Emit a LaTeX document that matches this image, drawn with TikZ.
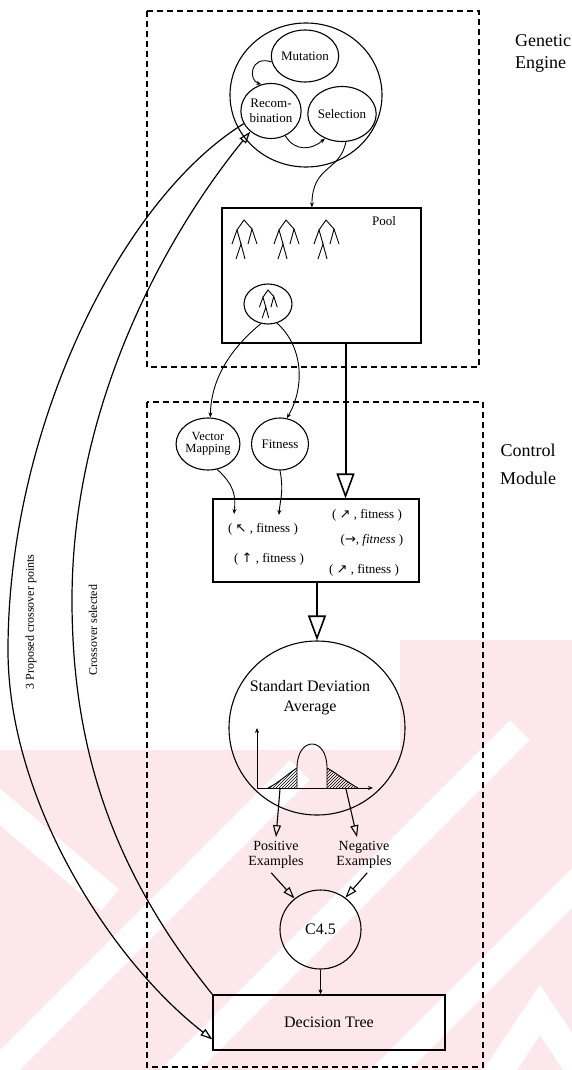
\documentclass[tikz,border=0pt]{standalone}
\usepackage{fontspec}
\setmainfont{Liberation Serif}
\newfontfamily\dv{DejaVu Sans}
\usetikzlibrary{arrows.meta,shapes.geometric,patterns,calc}
\definecolor{wmpink}{RGB}{252,232,236}
\newcommand{\gptree}[3]{%
  \begin{scope}[shift={(#1,#2)},scale=#3,line width=0.9pt]
    \draw (-7,10) -- (0,0) -- (8,9);
    \draw (-12,24) -- (-7,10) -- (-3,24);
    \draw (4,24) -- (8,9) -- (13,24);
    \draw (-8,39) -- (-3,24) -- (1,39);
  \end{scope}}
\begin{document}
\begin{tikzpicture}[x=1pt,y=-1pt,
  every node/.style={inner sep=0pt},
  op/.style={draw,ellipse,fill=white,line width=1.1pt,align=center,font=\fontsize{13}{15}\selectfont},
  dbox/.style={draw,dash pattern=on 6pt off 4pt,line width=1.3pt},
  box/.style={draw,rectangle,fill=white,line width=1.2pt},
  con/.style={line width=0.9pt,-{Stealth[length=5pt,width=4pt]}},
  oarr/.style={line width=1.1pt,-{Triangle[open,length=12pt,width=8pt]}},
  bigarr/.style={line width=2pt,-{Triangle[open,length=25pt,width=18pt,line width=1.6pt]}},
  lt/.style={font=\fontsize{13}{13}\selectfont},
  ex/.style={align=center,inner sep=4pt,font=\fontsize{14}{15}\selectfont},
  side/.style={font=\fontsize{18}{22}\selectfont},
  arclab/.style={rotate=90,font=\fontsize{12}{12}\selectfont},
  wmband/.style={white,line width=28pt},
]
\useasboundingbox (0,0) rectangle (572,1070);

% faint watermark in the background
\begin{scope}
  \clip (0,1070) -- (0,750) -- (400,750) -- (400,640) -- (572,640) -- (572,1070) -- cycle;
  \fill[wmpink] (0,600) rectangle (572,1070);
  \draw[wmband] (-60,1130) -- (300,770);
  \draw[wmband] (120,1130) -- (520,730);
  \draw[wmband] (330,1130) -- (700,760);
  \draw[wmband] (-20,790) -- (110,900);
  \draw[wmband] (480,1100) -- (540,1010) -- (600,1100);
\end{scope}

% dashed module frames
\draw[dbox] (147,11) rectangle (479,367);
\draw[dbox] (147,402) rectangle (483,1067);

% module labels
\node[side,align=left,anchor=west] (ge) at (515,53) {Genetic\\Engine};
\node[side,align=center,font=\fontsize{18}{28}\selectfont] (cm) at (528,464) {Control\\Module};

% genetic operators
\node[op,minimum width=152pt,minimum height=144pt] (ga) at (306,95) {};
\node[op,minimum width=56pt,minimum height=52pt] (mut) at (305,56) {Mutation};
\node[op,minimum width=58pt,minimum height=55pt] (rec) at (271,111) {Recom-\\bination};
\node[op,minimum width=58pt,minimum height=55pt] (sel) at (342,114) {Selection};

\draw[con] (mut.190) .. controls (250,55) and (248,80) .. (rec.110);
\draw[con] (rec.300) .. controls (295,152) and (312,150) .. (sel.235);

% pool
\node[box,minimum width=199pt,minimum height=135pt] (pool) at (321.5,275.5) {};
\node[lt] (pooll) at (384,221) {Pool};
\gptree{244}{220}{1}
\gptree{286}{220}{1}
\gptree{326}{220}{1}
\node[op,minimum width=48pt,minimum height=40pt] (tc) at (268,304) {};
\gptree{268}{290}{0.72}

\draw[con] (sel.278) .. controls (340,172) and (312,165) .. (pool.98);

% control module
\node[op,font=\fontsize{12.5}{11.5}\selectfont,minimum width=60pt,minimum height=52pt] (vm) at (208,444) {Vector\\Mapping};
\node[op,minimum width=57pt,minimum height=52pt] (fit) at (280,444) {Fitness};

\draw[con] (tc.250) .. controls (235,345) and (211,375) .. (vm.85);
\draw[con] (tc.295) .. controls (302,345) and (306,385) .. (fit.75);

\node[box,minimum width=206pt,minimum height=83pt] (list) at (316,540.5) {};
\node[lt] (l1) at (263,529) {( {\dv ↖} , fitness )};
\node[lt] (l2) at (269,559) {( {\dv ↑} , fitness )};
\node[lt] (r1) at (367,515) {( {\dv ↗} , fitness )};
\node[lt] (r2) at (372,540) {({\dv →}, \textit{fitness} )};
\node[lt] (r3) at (364,570) {( {\dv ↗} , fitness )};

\coordinate (vmend) at (234,514);
\coordinate (fitend) at (279,515);
\draw[con] (vm.290) .. controls (234,485) and (236,495) .. (vmend);
\draw[con] (fit.270) .. controls (284,492) and (280,500) .. (fitend);

\draw[bigarr] ($(pool.south west)!0.62!(pool.south east)$) coordinate (pa) -- (pa |- list.north);

% standard deviation
\node[op,fill=none,minimum width=176pt,minimum height=174pt] (sd) at (317,728) {};
\node[font=\fontsize{16}{20}\selectfont,align=center] (sdt) at (310,698) {Standart Deviation\\Average};
\draw[bigarr] (list.south -| sd.north) -- (sd.north);

\draw[con] (257,788) -- (257,728);
\draw[con] (257,788) -- (373,788);
\fill[pattern=north east lines] (268,788) .. controls (280,782) and (290,772) .. (297,768) -- (297,788) -- cycle;
\fill[pattern=north east lines] (327,768) .. controls (335,772) and (347,782) .. (358,788) -- (327,788) -- cycle;
\draw[line width=0.9pt] (268,788) .. controls (280,782) and (290,772) .. (297,768) -- (297,788);
\draw[line width=0.9pt] (297,768) .. controls (297,736) and (327,736) .. (327,768) -- (327,788);
\draw[line width=0.9pt] (327,768) .. controls (335,772) and (347,782) .. (358,788);
\coordinate (ltail) at (280,789);
\coordinate (rtail) at (346,789);

\node[ex] (pos) at (276,855) {Positive\\Examples};
\node[ex] (neg) at (364,855) {Negative\\Examples};
\draw[oarr] (ltail) -- (pos.north);
\draw[oarr] (rtail) -- (neg.north -| 357,0);

\node[op,fill=none,font=\fontsize{16}{16}\selectfont,minimum width=81pt,minimum height=79pt] (c45) at (320.5,929.5) {C4.5};
\draw[oarr] (pos.255) -- (c45.130);
\draw[oarr] (neg.280) -- (c45.52);

\node[box,fill=none,font=\fontsize{16}{16}\selectfont,minimum width=232pt,minimum height=55pt,line width=1.3pt] (dt) at (329,1022.5) {Decision Tree};
\draw[con] (c45.south) -- (c45.south |- dt.north);

% crossover arcs
\draw[oarr,line width=1.2pt] (rec.205) .. controls (120,200) and (8,430) .. (8,650) .. controls (8,800) and (110,960) .. ($(dt.west)!0.6!(dt.south west)$);
\draw[oarr,line width=1.2pt] (dt.north west) .. controls (120,880) and (72,760) .. (72,600) .. controls (72,400) and (170,230) .. (rec.225);
\node[arclab] (l3) at (31,622) {3 Proposed crossover points};
\node[arclab] (lcs) at (93,630) {Crossover selected};
\end{tikzpicture}
\end{document}
